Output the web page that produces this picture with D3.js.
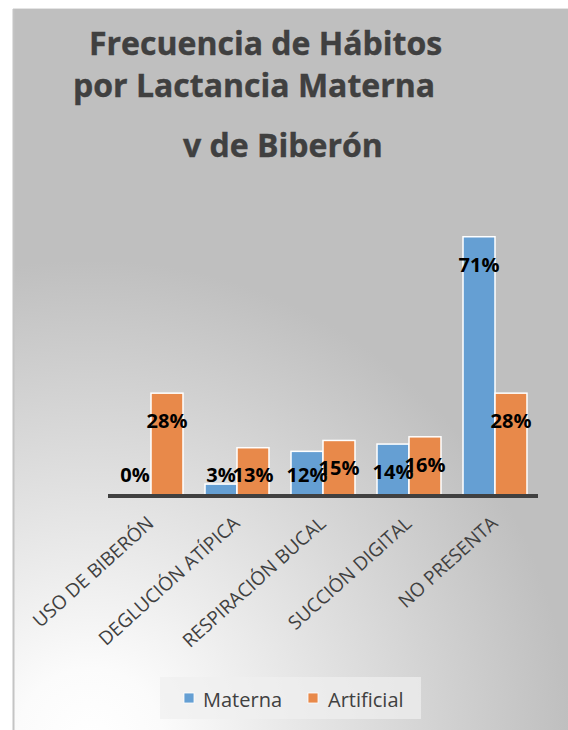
<!DOCTYPE html>
<html>
<head>
<meta charset="utf-8">
<script src="https://cdn.jsdelivr.net/npm/d3@7/dist/d3.min.js"></script>
<style>
  html, body { margin: 0; padding: 0; background: #ffffff; }
  svg { display: block; }
</style>
</head>
<body>
<div id="chart"></div>
<script>
const categories = ["USO DE BIBERÓN", "DEGLUCIÓN ATÍPICA", "RESPIRACIÓN BUCAL", "SUCCIÓN DIGITAL", "NO PRESENTA"];
const seriesNames = ["Materna", "Artificial"];
const materna = [0, 3, 12, 14, 71];
const artificial = [28, 13, 15, 16, 28];
const titleLines = ["Frecuencia de Hábitos", "por Lactancia Materna", "v de Biberón"];
const colors = ["#659fd3", "#e8894a"];

const W = 568, H = 730;
const svg = d3.select("#chart").append("svg").attr("width", W).attr("height", H);

const defs = svg.append("defs");
const grad = defs.append("radialGradient").attr("id", "bg")
  .attr("gradientUnits", "userSpaceOnUse")
  .attr("cx", 90).attr("cy", 740).attr("r", 480);
grad.append("stop").attr("offset", 0).attr("stop-color", "#ffffff");
grad.append("stop").attr("offset", 0.15).attr("stop-color", "#fbfbfb");
grad.append("stop").attr("offset", 1).attr("stop-color", "#bfbfbf");

// chart area
svg.append("rect").attr("x", 13).attr("y", 9).attr("width", W - 13).attr("height", H - 9)
  .attr("fill", "url(#bg)");
svg.append("line").attr("x1", 13.5).attr("x2", 13.5).attr("y1", 9).attr("y2", H)
  .attr("stroke", "#c4c4c4").attr("stroke-width", 2);
svg.append("line").attr("x1", 13).attr("x2", W).attr("y1", 8.5).attr("y2", 8.5)
  .attr("stroke", "#e4e4e4").attr("stroke-width", 1);

// title
const titlePos = [[89, 55], [73, 97], [183, 157]];
svg.append("g").selectAll("text").data(titleLines).join("text")
  .attr("x", (d, i) => titlePos[i][0])
  .attr("y", (d, i) => titlePos[i][1])
  .attr("font-family", "'Open Sans', sans-serif")
  .attr("font-weight", "bold")
  .attr("font-size", 32)
  .attr("fill", "#404040")
  .attr("stroke", "#404040")
  .attr("stroke-width", 0.4)
  .text(d => d);

// scales
const x0 = d3.scaleBand().domain(categories).range([108, 538]).paddingInner(0.256).paddingOuter(0.128);
const x1 = d3.scaleBand().domain(seriesNames).range([0, x0.bandwidth()]);
const y = d3.scaleLinear().domain([0, 80]).range([495, 204]);

const data = categories.map((c, i) => ({ cat: c, vals: [materna[i], artificial[i]] }));

const groups = svg.append("g").selectAll("g").data(data).join("g")
  .attr("transform", d => `translate(${x0(d.cat)},0)`);

groups.selectAll("rect").data(d => d.vals.map((v, j) => ({ v, s: seriesNames[j], j })))
  .join("rect")
  .attr("x", d => x1(d.s))
  .attr("width", x1.bandwidth())
  .attr("y", d => y(d.v))
  .attr("height", d => y(0) - y(d.v))
  .attr("fill", d => colors[d.j])
  .attr("stroke", d => d.v > 0 ? "#ffffff" : "none")
  .attr("stroke-width", 1.5);

// axis line
svg.append("line").attr("x1", x0.range()[0]).attr("x2", x0.range()[1])
  .attr("y1", y(0) + 1).attr("y2", y(0) + 1)
  .attr("stroke", "#404040").attr("stroke-width", 4);

// data labels
groups.selectAll("text.lbl").data(d => d.vals.map((v, j) => ({ v, s: seriesNames[j], j })))
  .join("text").attr("class", "lbl")
  .attr("x", d => x1(d.s) + x1.bandwidth() / 2)
  .attr("y", d => Math.min(y(d.v) + 35, y(0) - 13))
  .attr("text-anchor", "middle")
  .attr("font-family", "'Open Sans', sans-serif")
  .attr("font-weight", "bold")
  .attr("font-size", 20)
  .attr("fill", "#000000")
  .text(d => d.v + "%");

// category labels
svg.append("g").selectAll("text").data(categories).join("text")
  .attr("transform", d => `translate(${x0(d) + x0.bandwidth() / 2 + 4},${y(0) + 30}) rotate(-42)`)
  .attr("text-anchor", "end")
  .attr("font-family", "'Open Sans', sans-serif")
  .attr("font-size", 19)
  .attr("fill", "#404040")
  .text(d => d);

// legend
const lg = svg.append("g");
lg.append("rect").attr("x", 160).attr("y", 677).attr("width", 261).attr("height", 42)
  .attr("fill", "#f0f0f0").attr("opacity", 0.7);
const legX = [[184, 203], [308, 328]];
seriesNames.forEach((s, i) => {
  lg.append("rect").attr("x", legX[i][0]).attr("y", 693).attr("width", 10).attr("height", 10)
    .attr("fill", colors[i]).attr("stroke", "#ffffff").attr("stroke-width", 0.8);
  lg.append("text").attr("x", legX[i][1]).attr("y", 707)
    .attr("font-family", "'Open Sans', sans-serif")
    .attr("font-size", 20)
    .attr("fill", "#404040")
    .text(s);
});
</script>
</body>
</html>
